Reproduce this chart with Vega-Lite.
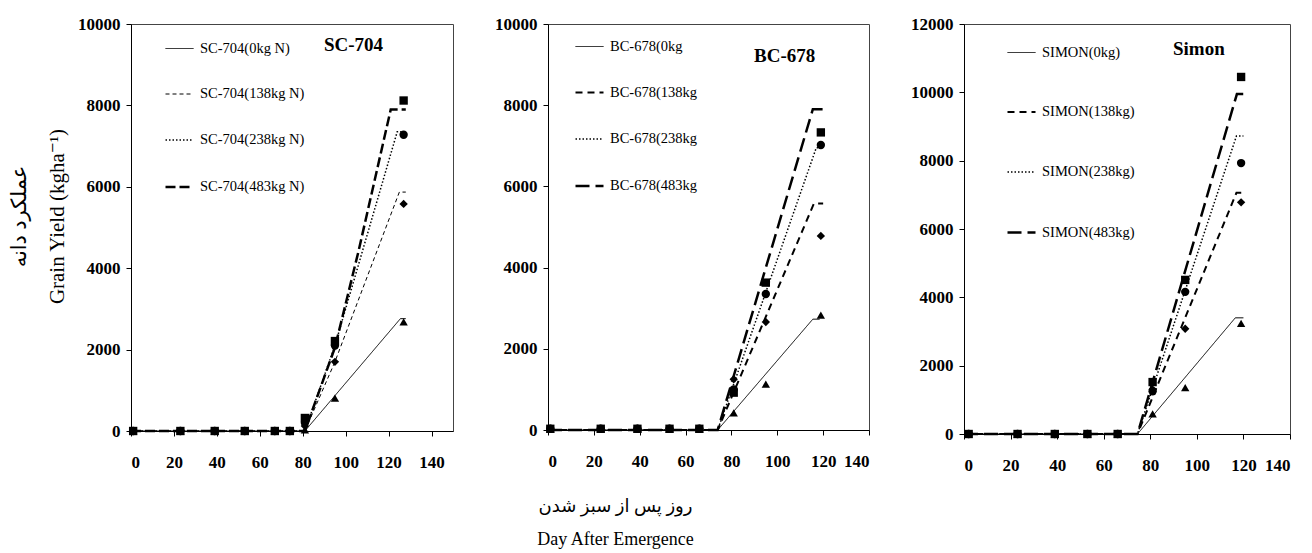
{
  "$schema": "https://vega.github.io/schema/vega-lite/v6.json",
  "background": "white",
  "padding": {"left": 8, "top": 14, "right": 5, "bottom": 5},
  "config": {
    "font": "Liberation Serif",
    "view": {"stroke": "#444444", "strokeWidth": 1},
    "axis": {"grid": false, "domainColor": "black", "tickColor": "black", "labelColor": "black", "labelFont": "Liberation Serif", "labelFontWeight": "bold", "labelFontSize": 17, "tickSize": 5, "titleColor": "black"},
    "axisX": {"labelPadding": 18},
    "axisY": {"labelPadding": 6},
    "legend": {"title": null, "orient": "none", "symbolType": "stroke", "symbolSize": 784, "labelFont": "Liberation Serif", "labelFontSize": 14.5, "labelColor": "black", "symbolStrokeColor": "black", "labelOffset": 5},
    "point": {"filled": true, "color": "black", "opacity": 1, "size": 70}
  },
  "datasets": {
    "sc": [
      {"kind": "sim", "treatment": "SC-704(0kg N)", "day": 0, "yield": 0},
      {"kind": "sim", "treatment": "SC-704(0kg N)", "day": 81, "yield": 0},
      {"kind": "sim", "treatment": "SC-704(0kg N)", "day": 125.5, "yield": 2760},
      {"kind": "sim", "treatment": "SC-704(0kg N)", "day": 128, "yield": 2760},
      {"kind": "sim", "treatment": "SC-704(138kg N)", "day": 0, "yield": 0},
      {"kind": "sim", "treatment": "SC-704(138kg N)", "day": 81, "yield": 0},
      {"kind": "sim", "treatment": "SC-704(138kg N)", "day": 95, "yield": 1700},
      {"kind": "sim", "treatment": "SC-704(138kg N)", "day": 125, "yield": 5870},
      {"kind": "sim", "treatment": "SC-704(138kg N)", "day": 128, "yield": 5870},
      {"kind": "sim", "treatment": "SC-704(238kg N)", "day": 0, "yield": 0},
      {"kind": "sim", "treatment": "SC-704(238kg N)", "day": 81, "yield": 0},
      {"kind": "sim", "treatment": "SC-704(238kg N)", "day": 95, "yield": 2100},
      {"kind": "sim", "treatment": "SC-704(238kg N)", "day": 124, "yield": 7350},
      {"kind": "sim", "treatment": "SC-704(238kg N)", "day": 128, "yield": 7350},
      {"kind": "sim", "treatment": "SC-704(483kg N)", "day": 0, "yield": 0},
      {"kind": "sim", "treatment": "SC-704(483kg N)", "day": 81, "yield": 0},
      {"kind": "sim", "treatment": "SC-704(483kg N)", "day": 95, "yield": 2050},
      {"kind": "sim", "treatment": "SC-704(483kg N)", "day": 106, "yield": 4420},
      {"kind": "sim", "treatment": "SC-704(483kg N)", "day": 121, "yield": 7900},
      {"kind": "sim", "treatment": "SC-704(483kg N)", "day": 128, "yield": 7900},
      {"kind": "obs", "treatment": "SC-704(0kg N)", "day": 1, "yield": 0},
      {"kind": "obs", "treatment": "SC-704(0kg N)", "day": 23, "yield": 0},
      {"kind": "obs", "treatment": "SC-704(0kg N)", "day": 39, "yield": 0},
      {"kind": "obs", "treatment": "SC-704(0kg N)", "day": 53, "yield": 0},
      {"kind": "obs", "treatment": "SC-704(0kg N)", "day": 67, "yield": 0},
      {"kind": "obs", "treatment": "SC-704(0kg N)", "day": 74, "yield": 0},
      {"kind": "obs", "treatment": "SC-704(0kg N)", "day": 81, "yield": 30},
      {"kind": "obs", "treatment": "SC-704(0kg N)", "day": 95, "yield": 810},
      {"kind": "obs", "treatment": "SC-704(0kg N)", "day": 127, "yield": 2680},
      {"kind": "obs", "treatment": "SC-704(138kg N)", "day": 1, "yield": 0},
      {"kind": "obs", "treatment": "SC-704(138kg N)", "day": 23, "yield": 0},
      {"kind": "obs", "treatment": "SC-704(138kg N)", "day": 39, "yield": 0},
      {"kind": "obs", "treatment": "SC-704(138kg N)", "day": 53, "yield": 0},
      {"kind": "obs", "treatment": "SC-704(138kg N)", "day": 67, "yield": 0},
      {"kind": "obs", "treatment": "SC-704(138kg N)", "day": 74, "yield": 0},
      {"kind": "obs", "treatment": "SC-704(138kg N)", "day": 81, "yield": 120},
      {"kind": "obs", "treatment": "SC-704(138kg N)", "day": 95, "yield": 1700},
      {"kind": "obs", "treatment": "SC-704(138kg N)", "day": 127, "yield": 5580},
      {"kind": "obs", "treatment": "SC-704(238kg N)", "day": 1, "yield": 0},
      {"kind": "obs", "treatment": "SC-704(238kg N)", "day": 23, "yield": 0},
      {"kind": "obs", "treatment": "SC-704(238kg N)", "day": 39, "yield": 0},
      {"kind": "obs", "treatment": "SC-704(238kg N)", "day": 53, "yield": 0},
      {"kind": "obs", "treatment": "SC-704(238kg N)", "day": 67, "yield": 0},
      {"kind": "obs", "treatment": "SC-704(238kg N)", "day": 74, "yield": 0},
      {"kind": "obs", "treatment": "SC-704(238kg N)", "day": 81, "yield": 200},
      {"kind": "obs", "treatment": "SC-704(238kg N)", "day": 95, "yield": 2100},
      {"kind": "obs", "treatment": "SC-704(238kg N)", "day": 127, "yield": 7280},
      {"kind": "obs", "treatment": "SC-704(483kg N)", "day": 1, "yield": 0},
      {"kind": "obs", "treatment": "SC-704(483kg N)", "day": 23, "yield": 0},
      {"kind": "obs", "treatment": "SC-704(483kg N)", "day": 39, "yield": 0},
      {"kind": "obs", "treatment": "SC-704(483kg N)", "day": 53, "yield": 0},
      {"kind": "obs", "treatment": "SC-704(483kg N)", "day": 67, "yield": 0},
      {"kind": "obs", "treatment": "SC-704(483kg N)", "day": 74, "yield": 0},
      {"kind": "obs", "treatment": "SC-704(483kg N)", "day": 81, "yield": 320},
      {"kind": "obs", "treatment": "SC-704(483kg N)", "day": 95, "yield": 2210},
      {"kind": "obs", "treatment": "SC-704(483kg N)", "day": 127, "yield": 8120}
    ],
    "bc": [
      {"kind": "sim", "treatment": "BC-678(0kg", "day": 0, "yield": 0},
      {"kind": "sim", "treatment": "BC-678(0kg", "day": 74, "yield": 0},
      {"kind": "sim", "treatment": "BC-678(0kg", "day": 115.5, "yield": 2730},
      {"kind": "sim", "treatment": "BC-678(0kg", "day": 118.5, "yield": 2730},
      {"kind": "sim", "treatment": "BC-678(138kg", "day": 0, "yield": 0},
      {"kind": "sim", "treatment": "BC-678(138kg", "day": 74, "yield": 0},
      {"kind": "sim", "treatment": "BC-678(138kg", "day": 116, "yield": 5580},
      {"kind": "sim", "treatment": "BC-678(138kg", "day": 120, "yield": 5580},
      {"kind": "sim", "treatment": "BC-678(238kg", "day": 0, "yield": 0},
      {"kind": "sim", "treatment": "BC-678(238kg", "day": 74, "yield": 0},
      {"kind": "sim", "treatment": "BC-678(238kg", "day": 117, "yield": 6950},
      {"kind": "sim", "treatment": "BC-678(238kg", "day": 119.5, "yield": 6950},
      {"kind": "sim", "treatment": "BC-678(483kg", "day": 0, "yield": 0},
      {"kind": "sim", "treatment": "BC-678(483kg", "day": 74, "yield": 0},
      {"kind": "sim", "treatment": "BC-678(483kg", "day": 115.5, "yield": 7900},
      {"kind": "sim", "treatment": "BC-678(483kg", "day": 120, "yield": 7900},
      {"kind": "obs", "treatment": "BC-678(0kg", "day": 1, "yield": 30},
      {"kind": "obs", "treatment": "BC-678(0kg", "day": 23, "yield": 30},
      {"kind": "obs", "treatment": "BC-678(0kg", "day": 39, "yield": 30},
      {"kind": "obs", "treatment": "BC-678(0kg", "day": 53, "yield": 30},
      {"kind": "obs", "treatment": "BC-678(0kg", "day": 66, "yield": 30},
      {"kind": "obs", "treatment": "BC-678(0kg", "day": 81, "yield": 420},
      {"kind": "obs", "treatment": "BC-678(0kg", "day": 95, "yield": 1130},
      {"kind": "obs", "treatment": "BC-678(0kg", "day": 119, "yield": 2830},
      {"kind": "obs", "treatment": "BC-678(138kg", "day": 1, "yield": 30},
      {"kind": "obs", "treatment": "BC-678(138kg", "day": 23, "yield": 30},
      {"kind": "obs", "treatment": "BC-678(138kg", "day": 39, "yield": 30},
      {"kind": "obs", "treatment": "BC-678(138kg", "day": 53, "yield": 30},
      {"kind": "obs", "treatment": "BC-678(138kg", "day": 66, "yield": 30},
      {"kind": "obs", "treatment": "BC-678(138kg", "day": 81, "yield": 1250},
      {"kind": "obs", "treatment": "BC-678(138kg", "day": 95, "yield": 2660},
      {"kind": "obs", "treatment": "BC-678(138kg", "day": 119, "yield": 4780},
      {"kind": "obs", "treatment": "BC-678(238kg", "day": 1, "yield": 30},
      {"kind": "obs", "treatment": "BC-678(238kg", "day": 23, "yield": 30},
      {"kind": "obs", "treatment": "BC-678(238kg", "day": 39, "yield": 30},
      {"kind": "obs", "treatment": "BC-678(238kg", "day": 53, "yield": 30},
      {"kind": "obs", "treatment": "BC-678(238kg", "day": 66, "yield": 30},
      {"kind": "obs", "treatment": "BC-678(238kg", "day": 81, "yield": 1000},
      {"kind": "obs", "treatment": "BC-678(238kg", "day": 95, "yield": 3350},
      {"kind": "obs", "treatment": "BC-678(238kg", "day": 119, "yield": 7020},
      {"kind": "obs", "treatment": "BC-678(483kg", "day": 1, "yield": 30},
      {"kind": "obs", "treatment": "BC-678(483kg", "day": 23, "yield": 30},
      {"kind": "obs", "treatment": "BC-678(483kg", "day": 39, "yield": 30},
      {"kind": "obs", "treatment": "BC-678(483kg", "day": 53, "yield": 30},
      {"kind": "obs", "treatment": "BC-678(483kg", "day": 66, "yield": 30},
      {"kind": "obs", "treatment": "BC-678(483kg", "day": 81, "yield": 920},
      {"kind": "obs", "treatment": "BC-678(483kg", "day": 95, "yield": 3630},
      {"kind": "obs", "treatment": "BC-678(483kg", "day": 119, "yield": 7330}
    ],
    "sm": [
      {"kind": "sim", "treatment": "SIMON(0kg)", "day": 0, "yield": 0},
      {"kind": "sim", "treatment": "SIMON(0kg)", "day": 74.5, "yield": 0},
      {"kind": "sim", "treatment": "SIMON(0kg)", "day": 116.5, "yield": 3400},
      {"kind": "sim", "treatment": "SIMON(0kg)", "day": 120, "yield": 3400},
      {"kind": "sim", "treatment": "SIMON(138kg)", "day": 0, "yield": 0},
      {"kind": "sim", "treatment": "SIMON(138kg)", "day": 74.5, "yield": 0},
      {"kind": "sim", "treatment": "SIMON(138kg)", "day": 117, "yield": 7060},
      {"kind": "sim", "treatment": "SIMON(138kg)", "day": 120, "yield": 7060},
      {"kind": "sim", "treatment": "SIMON(238kg)", "day": 0, "yield": 0},
      {"kind": "sim", "treatment": "SIMON(238kg)", "day": 74.5, "yield": 0},
      {"kind": "sim", "treatment": "SIMON(238kg)", "day": 117, "yield": 8720},
      {"kind": "sim", "treatment": "SIMON(238kg)", "day": 120, "yield": 8720},
      {"kind": "sim", "treatment": "SIMON(483kg)", "day": 0, "yield": 0},
      {"kind": "sim", "treatment": "SIMON(483kg)", "day": 74.5, "yield": 0},
      {"kind": "sim", "treatment": "SIMON(483kg)", "day": 117.2, "yield": 9950},
      {"kind": "sim", "treatment": "SIMON(483kg)", "day": 120, "yield": 9950},
      {"kind": "obs", "treatment": "SIMON(0kg)", "day": 2, "yield": 0},
      {"kind": "obs", "treatment": "SIMON(0kg)", "day": 23, "yield": 0},
      {"kind": "obs", "treatment": "SIMON(0kg)", "day": 39, "yield": 0},
      {"kind": "obs", "treatment": "SIMON(0kg)", "day": 53, "yield": 0},
      {"kind": "obs", "treatment": "SIMON(0kg)", "day": 66, "yield": 0},
      {"kind": "obs", "treatment": "SIMON(0kg)", "day": 81, "yield": 590},
      {"kind": "obs", "treatment": "SIMON(0kg)", "day": 95, "yield": 1360},
      {"kind": "obs", "treatment": "SIMON(0kg)", "day": 119, "yield": 3240},
      {"kind": "obs", "treatment": "SIMON(138kg)", "day": 2, "yield": 0},
      {"kind": "obs", "treatment": "SIMON(138kg)", "day": 23, "yield": 0},
      {"kind": "obs", "treatment": "SIMON(138kg)", "day": 39, "yield": 0},
      {"kind": "obs", "treatment": "SIMON(138kg)", "day": 53, "yield": 0},
      {"kind": "obs", "treatment": "SIMON(138kg)", "day": 66, "yield": 0},
      {"kind": "obs", "treatment": "SIMON(138kg)", "day": 81, "yield": 1300},
      {"kind": "obs", "treatment": "SIMON(138kg)", "day": 95, "yield": 3080},
      {"kind": "obs", "treatment": "SIMON(138kg)", "day": 119, "yield": 6780},
      {"kind": "obs", "treatment": "SIMON(238kg)", "day": 2, "yield": 0},
      {"kind": "obs", "treatment": "SIMON(238kg)", "day": 23, "yield": 0},
      {"kind": "obs", "treatment": "SIMON(238kg)", "day": 39, "yield": 0},
      {"kind": "obs", "treatment": "SIMON(238kg)", "day": 53, "yield": 0},
      {"kind": "obs", "treatment": "SIMON(238kg)", "day": 66, "yield": 0},
      {"kind": "obs", "treatment": "SIMON(238kg)", "day": 81, "yield": 1250},
      {"kind": "obs", "treatment": "SIMON(238kg)", "day": 95, "yield": 4160},
      {"kind": "obs", "treatment": "SIMON(238kg)", "day": 119, "yield": 7930},
      {"kind": "obs", "treatment": "SIMON(483kg)", "day": 2, "yield": 0},
      {"kind": "obs", "treatment": "SIMON(483kg)", "day": 23, "yield": 0},
      {"kind": "obs", "treatment": "SIMON(483kg)", "day": 39, "yield": 0},
      {"kind": "obs", "treatment": "SIMON(483kg)", "day": 53, "yield": 0},
      {"kind": "obs", "treatment": "SIMON(483kg)", "day": 66, "yield": 0},
      {"kind": "obs", "treatment": "SIMON(483kg)", "day": 81, "yield": 1520},
      {"kind": "obs", "treatment": "SIMON(483kg)", "day": 95, "yield": 4510},
      {"kind": "obs", "treatment": "SIMON(483kg)", "day": 119, "yield": 10450}
    ]
  },
  "title": {"text": ["روز پس از سبز شدن", "Day After Emergence"], "orient": "bottom", "anchor": "middle", "font": "Liberation Serif, DejaVu Sans", "fontSize": 18, "fontWeight": "normal", "lineHeight": 33, "offset": 24, "dx": -34, "color": "black"},
  "bounds": "flush",
  "spacing": 95,
  "resolve": {"scale": {"x": "independent", "y": "independent", "strokeDash": "independent", "strokeWidth": "independent"}, "legend": {"strokeDash": "independent", "strokeWidth": "independent"}},
  "hconcat": [
    {
      "width": 322,
      "height": 407,
      "data": {"name": "sc"},
      "title": {"text": "SC-704", "anchor": "start", "frame": "group", "dx": 193, "dy": 40, "offset": 0, "font": "Liberation Serif", "fontSize": 19, "fontWeight": "bold", "color": "black"},
      "encoding": {
        "x": {"field": "day", "type": "quantitative", "scale": {"domain": [0, 150], "nice": false}, "axis": {"values": [0, 20, 40, 60, 80, 100, 120, 140], "title": null}},
        "y": {"field": "yield", "type": "quantitative", "scale": {"domain": [0, 10000], "nice": false}, "axis": {"values": [0, 2000, 4000, 6000, 8000, 10000], "format": "d", "title": ["عملکرد دانه", "Grain Yield (kgha⁻¹)"], "titleFont": "Liberation Serif, DejaVu Sans", "titleFontSize": 21, "titleFontWeight": "normal", "titleLineHeight": 38, "titlePadding": 10, "titleY": 192}}
      },
      "layer": [
        {
          "transform": [{"filter": "datum.kind == 'sim'"}],
          "mark": {"type": "line", "color": "black"},
          "encoding": {
            "strokeDash": {"field": "treatment", "type": "nominal", "scale": {"domain": ["SC-704(0kg N)", "SC-704(138kg N)", "SC-704(238kg N)", "SC-704(483kg N)"], "range": [[1, 0], [4, 3], [1.5, 2], [10, 4]]}, "legend": {"legendX": 33, "legendY": 10, "rowPadding": 24.5}},
            "strokeWidth": {"field": "treatment", "type": "nominal", "scale": {"type": "ordinal", "domain": ["SC-704(0kg N)", "SC-704(138kg N)", "SC-704(238kg N)", "SC-704(483kg N)"], "range": [1, 1, 1.5, 2.5]}, "legend": {"legendX": 33, "legendY": 10, "rowPadding": 24.5}}
          }
        },
        {"transform": [{"filter": "datum.kind == 'obs' && datum.treatment == 'SC-704(0kg N)'"}], "mark": {"type": "point", "shape": "triangle-up"}, "encoding": {}},
        {"transform": [{"filter": "datum.kind == 'obs' && datum.treatment == 'SC-704(138kg N)'"}], "mark": {"type": "point", "shape": "diamond"}, "encoding": {}},
        {"transform": [{"filter": "datum.kind == 'obs' && datum.treatment == 'SC-704(238kg N)'"}], "mark": {"type": "point", "shape": "circle"}, "encoding": {}},
        {"transform": [{"filter": "datum.kind == 'obs' && datum.treatment == 'SC-704(483kg N)'"}], "mark": {"type": "point", "shape": "square"}, "encoding": {}}
      ]
    },
    {
      "width": 321,
      "height": 406,
      "data": {"name": "bc"},
      "title": {"text": "BC-678", "anchor": "start", "frame": "group", "dx": 206, "dy": 51, "offset": 0, "font": "Liberation Serif", "fontSize": 19, "fontWeight": "bold", "color": "black"},
      "encoding": {
        "x": {"field": "day", "type": "quantitative", "scale": {"domain": [0, 140], "nice": false}, "axis": {"values": [0, 20, 40, 60, 80, 100, 120, 140], "title": null}},
        "y": {"field": "yield", "type": "quantitative", "scale": {"domain": [0, 10000], "nice": false}, "axis": {"values": [0, 2000, 4000, 6000, 8000, 10000], "format": "d", "title": null}}
      },
      "layer": [
        {
          "transform": [{"filter": "datum.kind == 'sim'"}],
          "mark": {"type": "line", "color": "black"},
          "encoding": {
            "strokeDash": {"field": "treatment", "type": "nominal", "scale": {"domain": ["BC-678(0kg", "BC-678(138kg", "BC-678(238kg", "BC-678(483kg"], "range": [[1, 0], [7, 5], [1.5, 2], [14, 6]]}, "legend": {"legendX": 26, "legendY": 8, "rowPadding": 24.5}},
            "strokeWidth": {"field": "treatment", "type": "nominal", "scale": {"type": "ordinal", "domain": ["BC-678(0kg", "BC-678(138kg", "BC-678(238kg", "BC-678(483kg"], "range": [1, 2, 1.5, 2.5]}, "legend": {"legendX": 26, "legendY": 8, "rowPadding": 24.5}}
          }
        },
        {"transform": [{"filter": "datum.kind == 'obs' && datum.treatment == 'BC-678(0kg'"}], "mark": {"type": "point", "shape": "triangle-up"}, "encoding": {}},
        {"transform": [{"filter": "datum.kind == 'obs' && datum.treatment == 'BC-678(138kg'"}], "mark": {"type": "point", "shape": "diamond"}, "encoding": {}},
        {"transform": [{"filter": "datum.kind == 'obs' && datum.treatment == 'BC-678(238kg'"}], "mark": {"type": "point", "shape": "circle"}, "encoding": {}},
        {"transform": [{"filter": "datum.kind == 'obs' && datum.treatment == 'BC-678(483kg'"}], "mark": {"type": "point", "shape": "square"}, "encoding": {}}
      ]
    },
    {
      "width": 326,
      "height": 410,
      "data": {"name": "sm"},
      "title": {"text": "Simon", "anchor": "start", "frame": "group", "dx": 209, "dy": 44, "offset": 0, "font": "Liberation Serif", "fontSize": 19, "fontWeight": "bold", "color": "black"},
      "encoding": {
        "x": {"field": "day", "type": "quantitative", "scale": {"domain": [0, 140], "nice": false}, "axis": {"values": [0, 20, 40, 60, 80, 100, 120, 140], "title": null}},
        "y": {"field": "yield", "type": "quantitative", "scale": {"domain": [0, 12000], "nice": false}, "axis": {"values": [0, 2000, 4000, 6000, 8000, 10000, 12000], "format": "d", "title": null}}
      },
      "layer": [
        {
          "transform": [{"filter": "datum.kind == 'sim'"}],
          "mark": {"type": "line", "color": "black"},
          "encoding": {
            "strokeDash": {"field": "treatment", "type": "nominal", "scale": {"domain": ["SIMON(0kg)", "SIMON(138kg)", "SIMON(238kg)", "SIMON(483kg)"], "range": [[1, 0], [7, 5], [1.5, 2], [14, 6]]}, "legend": {"legendX": 42, "legendY": 14, "rowPadding": 38}},
            "strokeWidth": {"field": "treatment", "type": "nominal", "scale": {"type": "ordinal", "domain": ["SIMON(0kg)", "SIMON(138kg)", "SIMON(238kg)", "SIMON(483kg)"], "range": [1, 2, 1.5, 2.5]}, "legend": {"legendX": 42, "legendY": 14, "rowPadding": 38}}
          }
        },
        {"transform": [{"filter": "datum.kind == 'obs' && datum.treatment == 'SIMON(0kg)'"}], "mark": {"type": "point", "shape": "triangle-up"}, "encoding": {}},
        {"transform": [{"filter": "datum.kind == 'obs' && datum.treatment == 'SIMON(138kg)'"}], "mark": {"type": "point", "shape": "diamond"}, "encoding": {}},
        {"transform": [{"filter": "datum.kind == 'obs' && datum.treatment == 'SIMON(238kg)'"}], "mark": {"type": "point", "shape": "circle"}, "encoding": {}},
        {"transform": [{"filter": "datum.kind == 'obs' && datum.treatment == 'SIMON(483kg)'"}], "mark": {"type": "point", "shape": "square"}, "encoding": {}}
      ]
    }
  ]
}
